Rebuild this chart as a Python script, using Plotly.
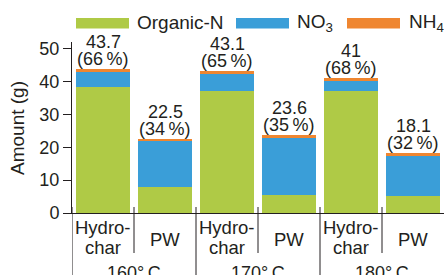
import plotly.graph_objects as go

# ---- data ----
temps = ["160°\u2009C", "170°\u2009C", "180°\u2009C"]
samples = ["Hydrochar", "PW"]
sample_lines = {"Hydrochar": ["Hydro-", "char"], "PW": ["PW"]}
categories = [f"{t} {s}" for t in temps for s in samples]

organic_n = [38.4, 8.0, 37.0, 5.5, 37.0, 5.2]
no3 = [4.7, 14.0, 5.3, 17.5, 3.4, 12.4]
nh4 = [0.6, 0.5, 0.8, 0.6, 0.6, 0.5]
totals = ["43.7", "22.5", "43.1", "23.6", "41", "18.1"]
shares = [66, 34, 65, 35, 68, 32]

series_names = ["Organic-N", "NO<sub>3</sub>", "NH<sub>4</sub>"]
series_colors = ["#afca46", "#3a9ed8", "#ef8630"]
series_values = [organic_n, no3, nh4]

y_ticks = [0, 10, 20, 30, 40, 50]

# ---- style ----
FONT = "Liberation Sans"
TXT = "#231f20"
W, H = 444, 275
ML, MR, MT, MB = 72, 0, 42, 62
PW_ = W - ML - MR
PH_ = H - MT - MB


def px_x(px):
    return (px - ML) / PW_


def px_y(py):
    return (H - MB - py) / PH_


fig = go.Figure()
for name, col, vals in zip(series_names, series_colors, series_values):
    fig.add_trace(go.Bar(x=categories, y=vals, name=name, marker_color=col,
                         marker_line_width=0, showlegend=False, hoverinfo="skip"))

ann = []
tot_vals = [a + b + c for a, b, c in zip(organic_n, no3, nh4)]
for cat, tv, tl, sh in zip(categories, tot_vals, totals, shares):
    ann.append(dict(x=cat, y=tv, xref="x", yref="y", text=tl, showarrow=False,
                    yanchor="middle", yshift=27.5, font=dict(size=18, color=TXT, family=FONT)))
    ann.append(dict(x=cat, y=tv, xref="x", yref="y", text=f"({sh}\u2009%)", showarrow=False,
                    yanchor="middle", yshift=10, font=dict(size=18, color=TXT, family=FONT)))

# category tick labels
for t in temps:
    for s in samples:
        cat = f"{t} {s}"
        lines = sample_lines[s]
        if len(lines) == 2:
            shifts = [-14, -34]
        else:
            shifts = [-26]
        for ln, sh in zip(lines, shifts):
            ann.append(dict(x=cat, y=0, xref="x", yref="paper", text=ln, showarrow=False,
                            yanchor="middle", yshift=sh, font=dict(size=18.5, color=TXT, family=FONT)))
# group labels
for gi, t in enumerate(temps):
    ann.append(dict(x=2 * gi + 0.5, y=0, xref="x", yref="paper", text=t, showarrow=False,
                    yanchor="middle", yshift=-60, font=dict(size=18, color=TXT, family=FONT)))

# y-axis title
ann.append(dict(x=px_x(17), y=px_y(128), xref="paper", yref="paper", text="Amount (g)",
                textangle=-90, showarrow=False, xanchor="center", yanchor="middle",
                font=dict(size=19, color=TXT, family=FONT)))

shapes = []
# boundaries
for b in range(len(categories)):
    xb = b - 0.5
    if b % 2 == 0:
        y0, y1 = px_y(207), px_y(290)
    else:
        y0, y1 = px_y(207), px_y(253)
    shapes.append(dict(type="line", xref="x", yref="paper", x0=xb, x1=xb, y0=y0, y1=y1,
                       line=dict(color=TXT, width=1)))

# legend (manual, wide swatches)
leg_sw = [(76, 129), (236, 289), (347, 400)]
leg_txt = [135, 295, 407]
for (x0, x1), tx, name, col in zip(leg_sw, leg_txt, series_names, series_colors):
    shapes.append(dict(type="rect", xref="paper", yref="paper", x0=px_x(x0), x1=px_x(x1),
                       y0=px_y(28.5), y1=px_y(18), fillcolor=col, line=dict(width=0)))
    ann.append(dict(x=px_x(tx), y=px_y(22.7), xref="paper", yref="paper", text=name,
                    showarrow=False, xanchor="left", yanchor="middle",
                    font=dict(size=19, color=TXT, family=FONT)))

fig.update_layout(
    width=W, height=H, margin=dict(l=ML, r=MR, t=MT, b=MB),
    barmode="stack", bargap=0.115,
    plot_bgcolor="white", paper_bgcolor="white",
    font=dict(family=FONT, color=TXT, size=18),
    annotations=ann, shapes=shapes, hovermode=False,
    xaxis=dict(type="category", categoryorder="array", categoryarray=categories,
               range=[-0.5, 5.5], showticklabels=False, ticks="", showline=True,
               linecolor=TXT, linewidth=1, showgrid=False, zeroline=False, automargin=False),
    yaxis=dict(range=[0, 52], tickvals=y_ticks, ticks="outside", ticklen=8, tickcolor=TXT,
               tickwidth=1, showline=True, linecolor=TXT, linewidth=1, showgrid=False,
               zeroline=False, automargin=False, tickfont=dict(size=18, color=TXT, family=FONT)),
)

fig.write_html("out.html", config={"displayModeBar": False},
               post_script="document.body.style.margin='0';document.body.style.padding='0';")
